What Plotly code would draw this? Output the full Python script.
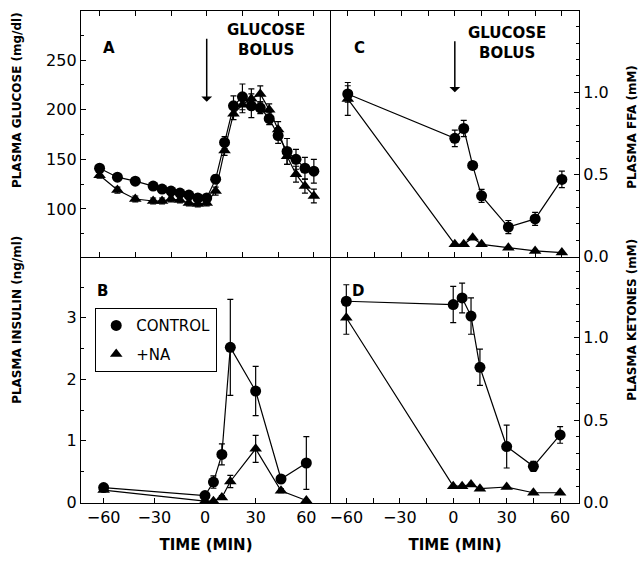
import plotly.graph_objects as go

# ---------------- data ----------------
t_glu = [-60, -50, -40, -30, -25, -20, -15, -10, -5, 0, 5, 10, 15, 20, 25, 30, 35, 40, 45, 50, 55, 60]
glu_ctrl = [141, 132, 128, 123, 120, 118, 116, 114, 111, 111, 130, 167, 204, 213, 204, 202, 191, 174, 158, 150, 141, 138]
glu_ctrl_err = [3, 3, 3, 3, 3, 3, 3, 3, 3, 3, 4, 6, 10, 13, 12, 6, 6, 8, 13, 10, 11, 12]
glu_na = [134, 119, 110, 108, 108, 110, 109, 106, 105, 106, 118, 159, 196, 205, 211, 216, 200, 180, 153, 135, 123, 113]
glu_na_err = [3, 3, 3, 3, 3, 3, 3, 3, 3, 3, 4, 5, 6, 8, 10, 8, 6, 8, 8, 8, 7, 7]

t_other = [-60, 0, 5, 10, 15, 30, 45, 60]
ins_ctrl = [0.24, 0.11, 0.33, 0.78, 2.52, 1.81, 0.38, 0.64]
ins_ctrl_err = [0.03, 0.05, 0.1, 0.17, 0.78, 0.4, 0.05, 0.43]
ins_na = [0.2, 0.02, 0.02, 0.08, 0.34, 0.87, 0.19, 0.03]
ins_na_err = [0.02, 0.01, 0.01, 0.03, 0.1, 0.22, 0.03, 0.01]

ffa_ctrl = [0.99, 0.72, 0.78, 0.555, 0.37, 0.18, 0.23, 0.47]
ffa_ctrl_err = [0.05, 0.05, 0.05, 0.02, 0.04, 0.04, 0.04, 0.05]
ffa_na = [0.96, 0.075, 0.075, 0.115, 0.075, 0.055, 0.035, 0.025]
ffa_na_err = [0.1, 0, 0, 0, 0, 0, 0, 0]

ket_ctrl = [1.22, 1.2, 1.24, 1.13, 0.82, 0.34, 0.22, 0.41]
ket_ctrl_err = [0.1, 0.11, 0.09, 0.11, 0.11, 0.13, 0.03, 0.05]
ket_na = [1.12, 0.1, 0.1, 0.11, 0.085, 0.095, 0.06, 0.06]
ket_na_err = [0.1, 0, 0, 0, 0, 0, 0, 0]

series_names = ["CONTROL", "+NA"]
y_titles = ["PLASMA GLUCOSE (mg/dl)", "PLASMA INSULIN (ng/ml)", "PLASMA FFA (mM)", "PLASMA KETONES (mM)"]
x_title = "TIME (MIN)"

# ---------------- figure ----------------
FONT = "DejaVu Sans"
fig = go.Figure()

def add_pair(xa, ya, x, yc, yce, yn, yne):
    for y, e, sym in [(yn, yne, "triangle-up"), (yc, yce, "circle")]:
        fig.add_trace(go.Scatter(
            x=x, y=y, mode="lines+markers", xaxis=xa, yaxis=ya, showlegend=False,
            line=dict(color="black", width=1.2),
            marker=dict(symbol=sym, size=11, color="black"),
            error_y=dict(type="data", array=e, color="black", thickness=1.2, width=3),
        ))

add_pair("x", "y", t_glu, glu_ctrl, glu_ctrl_err, glu_na, glu_na_err)
add_pair("x2", "y2", t_other, ins_ctrl, ins_ctrl_err, ins_na, ins_na_err)
add_pair("x3", "y3", t_other, ffa_ctrl, ffa_ctrl_err, ffa_na, ffa_na_err)
add_pair("x4", "y4", t_other, ket_ctrl, ket_ctrl_err, ket_na, ket_na_err)

# legend-only entries
for name, sym, grp in [(series_names[0], "circle", "a"), (series_names[1], "triangle-up", "b")]:
    fig.add_trace(go.Scatter(x=[None], y=[None], mode="markers", name=name, legendgroup=grp,
                             marker=dict(symbol=sym, size=11, color="black"),
                             xaxis="x2", yaxis="y2"))

W, H = 639, 561
L, R, T, B = 81, 60, 10, 54
PW, PH = W - L - R, H - T - B
xs = (331 - L) / PW
ys = (507 - 259) / PH

axcommon = dict(showline=True, linecolor="black", linewidth=1.3, ticks="inside",
                tickcolor="black", ticklen=5, tickwidth=1.2, zeroline=False, showgrid=False,
                tickfont=dict(family=FONT, size=16, color="black"))
minor_tick = dict(ticks="inside", ticklen=3, tickcolor="black", tickwidth=1)

fig.update_layout(
    width=W, height=H, autosize=False,
    margin=dict(l=L, r=R, t=T, b=B),
    paper_bgcolor="white", plot_bgcolor="white",
    font=dict(family=FONT, color="black"),
    xaxis=dict(axcommon, domain=[0, xs], anchor="y", range=[-70.4, 69.6],
               tickvals=[-60, -40, -20, 0, 20, 40, 60], showticklabels=False, mirror="ticks"),
    yaxis=dict(axcommon, domain=[ys, 1], anchor="x", range=[51, 299.6],
               tickmode="linear", tick0=0, dtick=50, mirror=False,
               minor=dict(minor_tick, dtick=25)),
    xaxis2=dict(axcommon, domain=[0, xs], anchor="y2", range=[-73.4, 74.6],
                tickvals=[-60, -30, 0, 30, 60], mirror=False,
                title=dict(text=x_title, standoff=13,
                           font=dict(family=FONT, size=15, weight="bold"))),
    yaxis2=dict(axcommon, domain=[0, ys], anchor="x2", range=[-0.01, 3.98],
                tickmode="linear", tick0=0, dtick=1, mirror=False,
                minor=dict(minor_tick, dtick=0.5)),
    xaxis3=dict(axcommon, domain=[xs, 1], anchor="y3", range=[-69.4, 69.6],
                tickmode="linear", tick0=0, dtick=15, showticklabels=False, mirror="ticks"),
    yaxis3=dict(axcommon, domain=[ys, 1], anchor="x3", side="right", range=[-0.005, 1.495],
                tickmode="linear", tick0=0, dtick=0.5, tickformat=".1f", mirror=True,
                minor=dict(minor_tick, dtick=0.1)),
    xaxis4=dict(axcommon, domain=[xs, 1], anchor="y4", range=[-68.6, 70.6],
                tickmode="linear", tick0=0, dtick=30, mirror=False,
                minor=dict(minor_tick, dtick=15, ticklen=5),
                title=dict(text=x_title, standoff=13,
                           font=dict(family=FONT, size=15, weight="bold"))),
    yaxis4=dict(axcommon, domain=[0, ys], anchor="x4", side="right", range=[-0.002, 1.485],
                tickmode="linear", tick0=0, dtick=0.5, tickformat=".1f", mirror=True,
                minor=dict(minor_tick, dtick=0.1)),
    legend=dict(x=(95 - L) / PW, y=(507 - 310) / PH, xanchor="left", yanchor="top",
                bordercolor="black", borderwidth=1.2, bgcolor="white",
                font=dict(family=FONT, size=15, color="black"), tracegroupgap=6),
)

ann_font = dict(family=FONT, size=15, color="black", weight="bold")
title_font = dict(family=FONT, size=12, color="black", weight="bold")

def ytitle(text, xpx, ypx):
    return dict(text=text, x=(xpx - L) / PW, y=(507 - ypx) / PH, xref="paper", yref="paper",
                xanchor="center", yanchor="middle", textangle=-90, showarrow=False, font=title_font)

annotations = [
    dict(text="A", x=-54.7, y=262, xref="x", yref="y", showarrow=False, font=ann_font),
    dict(text="B", x=-60.4, y=3.44, xref="x2", yref="y2", showarrow=False, font=ann_font),
    dict(text="C", x=-53.7, y=1.27, xref="x3", yref="y3", showarrow=False, font=ann_font),
    dict(text="D", x=-53.7, y=1.28, xref="x4", yref="y4", showarrow=False, font=ann_font),
    dict(text="GLUCOSE<br>BOLUS", x=33, y=270, xref="x", yref="y", showarrow=False,
         font=dict(family=FONT, size=15, color="black", weight="bold")),
    dict(text="GLUCOSE<br>BOLUS", x=29.5, y=1.3, xref="x3", yref="y3", showarrow=False,
         font=dict(family=FONT, size=15, color="black", weight="bold")),
    dict(text="", x=0, y=208, ax=0, ay=273, xref="x", yref="y", axref="x", ayref="y",
         showarrow=True, arrowhead=1, arrowsize=1.2, arrowwidth=1.5, arrowcolor="black"),
    dict(text="", x=0, y=1.0, ax=0, ay=1.32, xref="x3", yref="y3", axref="x3", ayref="y3",
         showarrow=True, arrowhead=1, arrowsize=1.2, arrowwidth=1.5, arrowcolor="black"),
    ytitle(y_titles[0], 17, 100),
    ytitle(y_titles[1], 17, 322),
    ytitle(y_titles[2], 632, 127),
    ytitle(y_titles[3], 632, 322),
]
fig.update_layout(annotations=annotations)

fig.write_html("out.html")
